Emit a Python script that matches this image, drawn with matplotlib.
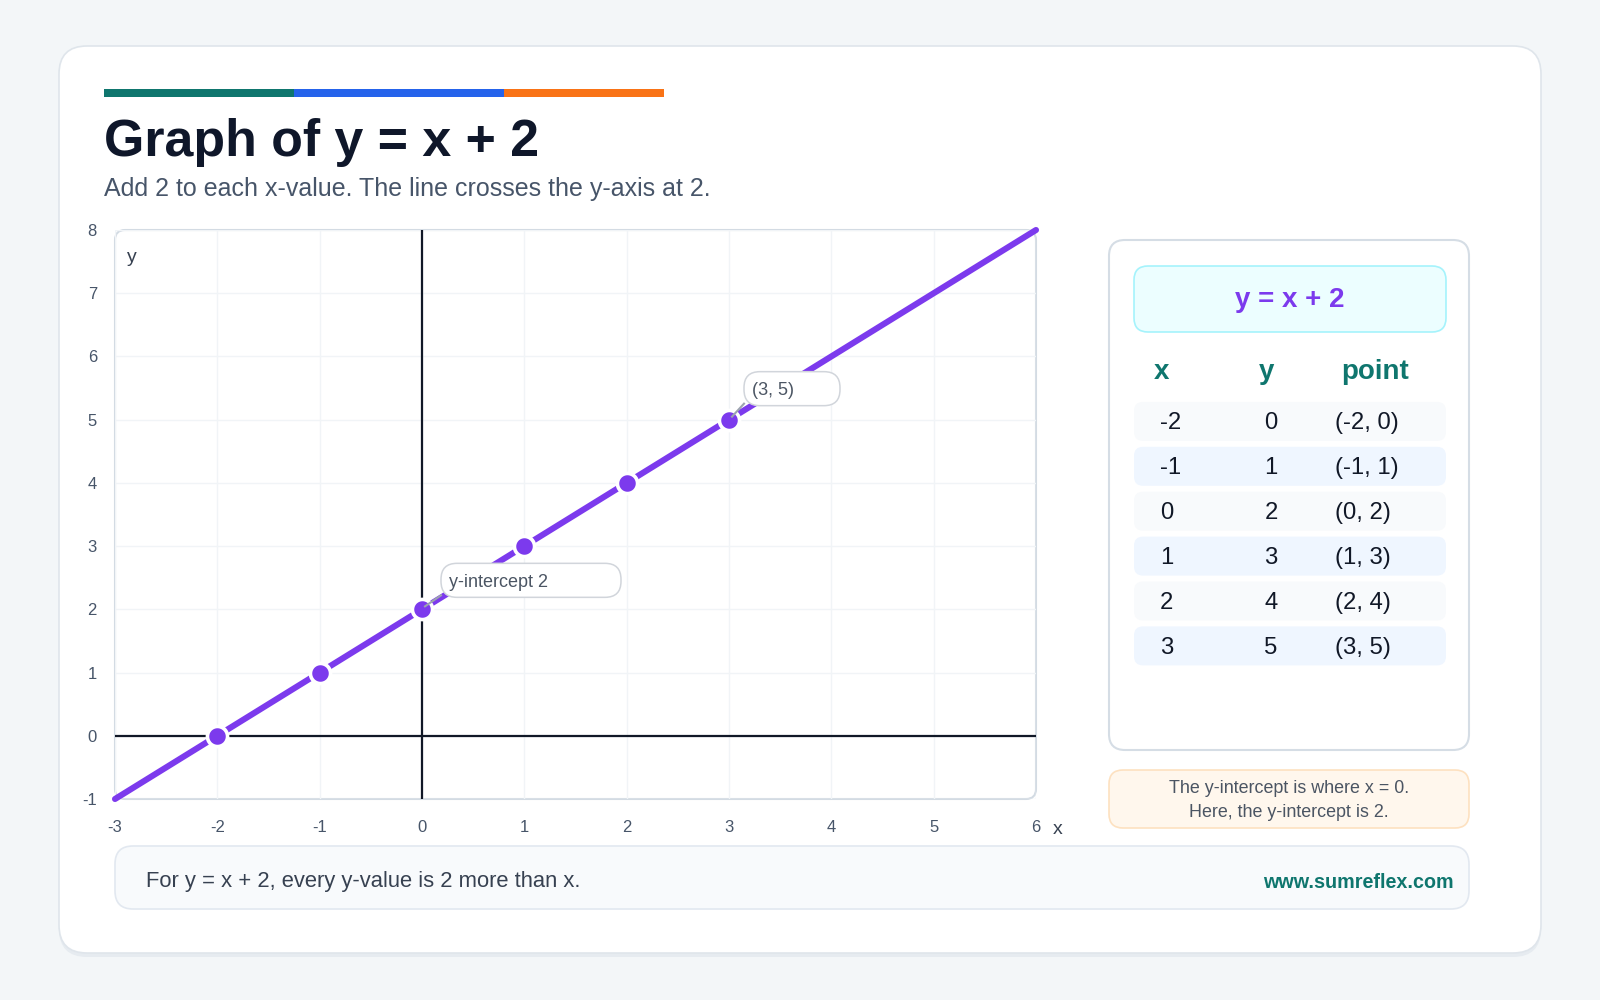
import matplotlib.pyplot as plt
from matplotlib.patches import FancyBboxPatch
from matplotlib.transforms import Affine2D, ScaledTranslation

plt.rcParams['font.family'] = ['Liberation Sans', 'DejaVu Sans']
plt.rcParams['axes.unicode_minus'] = False

# data
line_x = [-3, 6]
line_y = [-1, 8]
point_x = [-2, -1, 0, 1, 2, 3]
point_y = [0, 1, 2, 3, 4, 5]
x_ticks = [-3, -2, -1, 0, 1, 2, 3, 4, 5, 6]
y_ticks = [-1, 0, 1, 2, 3, 4, 5, 6, 7, 8]
table_header = ["x", "y", "point"]
callouts = [((3, 5), "(3, 5)"), ((0, 2), "y-intercept 2")]

purple = "#7c3aed"
teal = "#0f766e"

W, H = 1600, 1000
fig = plt.figure(figsize=(16, 10), dpi=100)
fig.patch.set_facecolor("#f3f6f8")
page = Affine2D().scale(1, -1).translate(0, H)  # pixels, origin top-left


def box(x0, y0, x1, y1, r, fc, ec, lw=1.2, z=-1, tr=page, parent=None):
    p = FancyBboxPatch((x0, y0), x1 - x0, y1 - y0,
                       boxstyle=f"round,pad=0,rounding_size={r}",
                       fc=fc, ec=ec, lw=lw, transform=tr, zorder=z)
    if parent is None:
        fig.add_artist(p)
    else:
        parent.add_artist(p)
    return p


def txt(x, y, s, **kw):
    return fig.text(x, y, s, transform=page, **kw)


# card
box(59, 50, 1541, 957, 28, "#e6ebf0", "none", z=-5)
box(59, 46, 1541, 953, 28, "white", "#dfe5eb", lw=1.2, z=-4)

# colour strip
box(104, 89, 294, 97, 0, teal, "none", lw=0, z=-3)
box(294, 89, 504, 97, 0, "#2563eb", "none", lw=0, z=-3)
box(504, 89, 664, 97, 0, "#f97316", "none", lw=0, z=-3)

txt(104, 156, "Graph of y = x + 2", fontsize=37.4, fontweight="bold",
    color="#0f172a", va="baseline")
txt(104, 196, "Add 2 to each x-value. The line crosses the y-axis at 2.",
    fontsize=18, color="#475569", va="baseline")

# plot frame
box(115, 230, 1036, 799, 10, "white", "#d3dbe3", lw=1.5, z=-2)

ax = fig.add_axes([115 / W, 1 - 799 / H, 921 / W, 569 / H])
ax.patch.set_visible(False)
for s in ax.spines.values():
    s.set_visible(False)

ax.set_xticks(x_ticks)
ax.set_yticks(y_ticks)
ax.tick_params(length=0, labelsize=12, labelcolor="#475569", pad=13)
ax.tick_params(axis="x", pad=15)
ax.grid(True, color="#f1f4f7", lw=1)
ax.set_axisbelow(True)

ax.axhline(0, color="#111827", lw=1.6, zorder=2)
ax.axvline(0, color="#111827", lw=1.6, zorder=2)

ax.plot(line_x, line_y, color=purple, lw=4.4, solid_capstyle="round",
        clip_on=False, zorder=3)
ax.plot(point_x, point_y, "o", color=purple, ms=14.5, mec="white", mew=2.6,
        zorder=4, clip_on=False)

# callouts (offsets in pixels from the point)
offsets = {"(3, 5)": (15, 14, 96), "y-intercept 2": (19, 12, 180)}
for (px, py), label in callouts:
    t = Affine2D() + ScaledTranslation(px, py, ax.transData)
    dx, dy, w = offsets[label]
    ax.plot([3, dx], [3, dy + 2], color="#9ca3af", lw=1.5, transform=t,
            zorder=5, clip_on=False)
    box(dx, dy, dx + w, dy + 34, 16, "white", "#d1d5db", lw=1.1, z=6,
        tr=t, parent=ax)
    ax.text(dx + 8, dy + 15, label, transform=t, fontsize=13,
            color="#4b5563", va="center", ha="left", zorder=7)

ax.set_xlim(-3, 6)
ax.set_ylim(-1, 8)

txt(1058, 830, "x", fontsize=14, color="#374151", va="center", ha="center")
txt(132, 257, "y", fontsize=14, color="#374151", va="center", ha="center")

# right panel
box(1109, 240, 1469, 750, 16, "white", "#d5dde5", lw=1.5, z=-2)
box(1134, 266, 1446, 332, 14, "#ecfeff", "#a5f3fc", lw=1.2, z=-1)
txt(1290, 300, "y = x + 2", fontsize=20, fontweight="bold", color=purple,
    ha="center", va="center")

txt(1162, 372, table_header[0], fontsize=20, fontweight="bold", color=teal,
    ha="center", va="center")
txt(1267, 372, table_header[1], fontsize=20, fontweight="bold", color=teal,
    ha="center", va="center")
txt(1375, 372, table_header[2], fontsize=20, fontweight="bold", color=teal,
    ha="center", va="center")

for i, (xv, yv) in enumerate(zip(point_x, point_y)):
    cy = 421.4 + i * 44.9
    fc = "#f8fafc" if i % 2 == 0 else "#eff6ff"
    box(1134, cy - 19.5, 1446, cy + 19.5, 9, fc, "none", lw=0, z=-1)
    ty = cy + 2
    txt(1160, ty, str(xv), fontsize=17.2, color="#111827", va="center")
    txt(1271, ty, str(yv), fontsize=17.2, color="#111827", va="center",
        ha="center")
    txt(1335, ty, f"({xv}, {yv})", fontsize=17.2, color="#111827",
        va="center")

# note box
box(1109, 770, 1469, 828, 14, "#fff7ed", "#fde1c0", lw=1.2, z=-1)
txt(1289, 788.5, "The y-intercept is where x = 0.", fontsize=12.9,
    color="#4b5563", ha="center", va="center")
txt(1289, 812.5, "Here, the y-intercept is 2.", fontsize=12.9,
    color="#4b5563", ha="center", va="center")

# footer
box(115, 846, 1469, 909, 18, "#f8fafc", "#e2e8f0", lw=1.2, z=-1)
txt(146, 882, "For y = x + 2, every y-value is 2 more than x.", fontsize=15.8,
    color="#374151", va="center")
txt(1454, 882, "www.sumreflex.com", fontsize=14.2, fontweight="bold",
    color=teal, va="center", ha="right")

fig.savefig("out.png", dpi=100)
